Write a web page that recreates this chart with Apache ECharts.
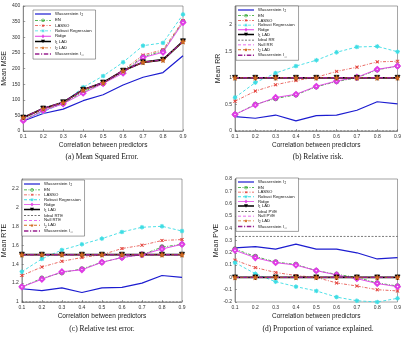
<!DOCTYPE html>
<html>
<head>
<meta charset="utf-8">
<script src="https://cdn.jsdelivr.net/npm/echarts@6/dist/echarts.min.js"></script>
<style>
  html, body { margin: 0; padding: 0; background: #fff; }
  #main { width: 404px; height: 339px; }
</style>
</head>
<body>
<div id="main"></div>
<script>
// x categories (correlation between predictors)
const xCats = ['0.1', '0.2', '0.3', '0.4', '0.5', '0.6', '0.7', '0.8', '0.9']

// (a) Mean MSE
const mseW2 = [32, 56, 70, 97, 116, 147, 172, 187, 241]
const mseEN = [35, 66, 88, 125, 153, 190, 238, 256, 350]
const mseLasso = [42, 70, 90, 133, 155, 195, 243, 260, 353]
const mseRobust = [34, 61, 90, 140, 176, 220, 273, 282, 373]
const mseRidge = [33, 65, 87, 121, 152, 185, 235, 252, 347]
const mseL1 = [43, 72, 92, 132, 155, 193, 220, 228, 287]
const mseL2 = [43, 71, 91, 131, 154, 192, 220, 227, 286]
const mseWinf = [43, 72, 92, 132, 155, 193, 220, 228, 287]

// (b) Mean RR
const rrW2 = [0.27, 0.24, 0.30, 0.19, 0.29, 0.30, 0.39, 0.55, 0.51]
const rrEN = [0.31, 0.50, 0.61, 0.68, 0.83, 0.93, 1.0, 1.15, 1.22]
const rrLasso = [0.56, 0.75, 0.87, 0.95, 1.01, 1.12, 1.2, 1.3, 1.31]
const rrRobust = [0.63, 0.91, 1.09, 1.22, 1.33, 1.48, 1.58, 1.59, 1.49]
const rrRidge = [0.31, 0.49, 0.63, 0.69, 0.84, 0.94, 1.01, 1.16, 1.22]
const rrL1 = [1, 1, 1, 1, 1, 1, 1, 1, 1]
const rrIdeal = [0, 0, 0, 0, 0, 0, 0, 0, 0]
const rrNull = [1, 1, 1, 1, 1, 1, 1, 1, 1]
const rrL2 = [1, 1, 1, 1, 1, 1, 1, 1, 1]
const rrWinf = [1, 1, 1, 1, 1, 1, 1, 1, 1]

// (c) Mean RTE
const rteW2 = [1.14, 1.12, 1.15, 1.10, 1.15, 1.155, 1.20, 1.28, 1.26]
const rteEN = [1.16, 1.25, 1.31, 1.35, 1.42, 1.47, 1.50, 1.58, 1.61]
const rteLasso = [1.28, 1.37, 1.43, 1.47, 1.50, 1.565, 1.60, 1.65, 1.66]
const rteRobust = [1.32, 1.455, 1.55, 1.61, 1.67, 1.74, 1.79, 1.80, 1.75]
const rteRidge = [1.16, 1.24, 1.32, 1.34, 1.42, 1.47, 1.50, 1.56, 1.61]
const rteL1 = [1.5, 1.5, 1.5, 1.5, 1.5, 1.5, 1.5, 1.5, 1.5]
const rteIdeal = [1, 1, 1, 1, 1, 1, 1, 1, 1]
const rteNull = [1.5, 1.5, 1.5, 1.5, 1.5, 1.5, 1.5, 1.5, 1.5]
const rteL2 = [1.5, 1.5, 1.5, 1.5, 1.5, 1.5, 1.5, 1.5, 1.5]
const rteWinf = [1.5, 1.5, 1.5, 1.5, 1.5, 1.5, 1.5, 1.5, 1.5]

// (d) Mean PVE
const pveW2 = [0.24, 0.25, 0.23, 0.27, 0.23, 0.23, 0.20, 0.15, 0.16]
const pveEN = [0.23, 0.17, 0.125, 0.105, 0.055, 0.025, 0.0, -0.045, -0.07]
const pveLasso = [0.14, 0.08, 0.04, 0.015, 0.0, -0.045, -0.07, -0.10, -0.11]
const pveRobust = [0.12, 0.03, -0.035, -0.075, -0.11, -0.16, -0.19, -0.20, -0.17]
const pveRidge = [0.22, 0.16, 0.12, 0.10, 0.055, 0.02, -0.01, -0.05, -0.075]
const pveL1 = [0, 0, 0, 0, 0, 0, 0, 0, 0]
const pveIdeal = [0.333, 0.333, 0.333, 0.333, 0.333, 0.333, 0.333, 0.333, 0.333]
const pveNull = [0, 0, 0, 0, 0, 0, 0, 0, 0]
const pveL2 = [0, 0, 0, 0, 0, 0, 0, 0, 0]
const pveWinf = [0, 0, 0, 0, 0, 0, 0, 0, 0]

// marker symbols
const STAR = 'path://M0,-10 L2.35,-3.24 9.51,-3.09 3.8,1.24 5.88,8.09 0,4 -5.88,8.09 -3.8,1.24 -9.51,-3.09 -2.35,-3.24 Z'
const ASTER = 'path://M-1,-0.12 L1,-0.12 L1,0.12 L-1,0.12 Z M-0.12,-1 L0.12,-1 L0.12,1 L-0.12,1 Z M-0.79,-0.62 L-0.62,-0.79 L0.79,0.62 L0.62,0.79 Z M0.62,-0.79 L0.79,-0.62 L-0.62,0.79 L-0.79,0.62 Z'
const XMARK = 'path://M-0.85,-0.68 L-0.68,-0.85 L0.85,0.68 L0.68,0.85 Z M0.68,-0.85 L0.85,-0.68 L-0.68,0.85 L-0.85,0.68 Z'

// line styles per method
const sty = {
  'Wasserstein l2': { color: '#1c1cd0', width: 1.2, type: 'solid', symbol: 'none', mk: null },
  'EN': { color: '#22a022', width: 0.8, type: [3, 1.5, 1, 1.5], symbol: 'emptyCircle', size: 3.5, mcolor: '#7a7a7a', mk: 'ring' },
  'LASSO': { color: '#e4443c', width: 0.8, type: [3, 1.5, 1, 1.5], symbol: XMARK, size: 3, mk: 'x' },
  'Robust Regression': { color: '#3cdde4', width: 0.9, type: [3, 2], symbol: ASTER, size: 4, mk: 'aster' },
  'Ridge': { color: '#e03ce6', width: 0.9, type: 'solid', symbol: 'emptyDiamond', size: 4.5, mk: 'diamond' },
  'l1 LAD': { color: '#000', width: 1.8, type: 'solid', symbol: 'triangle', size: 5, rotate: 180, mk: 'tri' },
  'l2 LAD': { color: '#d2691e', width: 0.9, type: [3, 2], symbol: STAR, size: 5, mk: 'star' },
  'Wasserstein linf': { color: '#98208f', width: 1.4, type: [4, 1.5, 1, 1.5], symbol: 'none', mk: null },
  'ideal': { color: '#444', width: 0.7, type: [2, 1.5], symbol: 'none', mk: null },
  'null': { color: '#e03ce6', width: 0.8, type: [3, 2], symbol: 'none', mk: null }
}

function keyOf(name) {
  if (name.indexOf('Ideal') === 0) return 'ideal'
  if (name.indexOf('Null') === 0) return 'null'
  return name
}

function mk(name, data, gi) {
  const s = sty[keyOf(name)]
  return {
    name: name,
    type: 'line',
    xAxisIndex: gi,
    yAxisIndex: gi,
    data: data,
    symbol: s.symbol,
    symbolSize: s.size || 4,
    symbolRotate: s.rotate || 0,
    showAllSymbol: true,
    animation: false,
    lineStyle: { color: s.color, width: s.width, type: s.type },
    itemStyle: { color: s.mcolor || s.color, borderColor: s.mcolor || s.color, borderWidth: 0.7 },
    emphasis: { disabled: true }
  }
}

// ---- legend icons: line (with dashes) + marker, as one filled path in a 16x4 box
function f(v) { return Math.round(v * 100) / 100 }
function poly(pts) { return 'M' + pts.map(p => f(p[0]) + ',' + f(p[1])).join(' L') + ' Z ' }
function rect(x0, x1, y0, y1) { return poly([[x0, y0], [x1, y0], [x1, y1], [x0, y1]]) }
function bar(len, th, ang) {
  const a = ang * Math.PI / 180, c = Math.cos(a), s = Math.sin(a)
  const pts = [[-len / 2, -th / 2], [len / 2, -th / 2], [len / 2, th / 2], [-len / 2, th / 2]]
  return poly(pts.map(p => [8 + p[0] * c - p[1] * s, 2 + p[0] * s + p[1] * c]))
}
function circ(r, n, rev) {
  const pts = []
  for (let i = 0; i < n; i++) {
    const a = (rev ? -1 : 1) * i * 2 * Math.PI / n
    pts.push([8 + r * Math.cos(a), 2 + r * Math.sin(a)])
  }
  return poly(pts)
}
function iconFor(name) {
  const s = sty[keyOf(name)]
  const t = Math.min(s.width, 1.6)
  let p = ''
  if (s.type === 'solid') {
    p += rect(0, 16, 2 - t / 2, 2 + t / 2)
  } else {
    let x = 0, i = 0
    while (x < 16) {
      const len = s.type[i % s.type.length]
      if (i % 2 === 0) p += rect(x, Math.min(16, x + len), 2 - t / 2, 2 + t / 2)
      x += len
      i++
    }
  }
  if (s.mk === 'ring') p += circ(1.7, 14, false) + circ(1.15, 14, true)
  if (s.mk === 'x') p += bar(3.2, 0.5, 45) + bar(3.2, 0.5, -45)
  if (s.mk === 'aster') p += bar(3.6, 0.45, 0) + bar(3.6, 0.45, 90) + bar(3.6, 0.45, 45) + bar(3.6, 0.45, -45)
  if (s.mk === 'diamond') p += poly([[8, 0], [9.6, 2], [8, 4], [6.4, 2]]) + poly([[8, 1.1], [7.1, 2], [8, 2.9], [8.9, 2]])
  if (s.mk === 'tri') p += poly([[6, 0.3], [10, 0.3], [8, 3.8]])
  if (s.mk === 'star') {
    const pts = []
    for (let i = 0; i < 10; i++) {
      const r = i % 2 === 0 ? 2 : 0.85
      const a = -Math.PI / 2 + i * Math.PI / 5
      pts.push([8 + r * Math.cos(a), 2.1 + r * Math.sin(a)])
    }
    p += poly(pts)
  }
  return 'path://' + p
}

const grids = [
  { left: 21, top: 6, width: 162, height: 125 },
  { left: 235, top: 6, width: 165, height: 125 },
  { left: 21, top: 179, width: 161, height: 123 },
  { left: 235, top: 179, width: 165, height: 123 }
]

const series = [
  mk('Wasserstein l2', mseW2, 0),
  mk('EN', mseEN, 0),
  mk('LASSO', mseLasso, 0),
  mk('Robust Regression', mseRobust, 0),
  mk('Ridge', mseRidge, 0),
  mk('l1 LAD', mseL1, 0),
  mk('l2 LAD', mseL2, 0),
  mk('Wasserstein linf', mseWinf, 0),

  mk('Ideal RR', rrIdeal, 1),
  mk('Null RR', rrNull, 1),
  mk('Wasserstein l2', rrW2, 1),
  mk('EN', rrEN, 1),
  mk('LASSO', rrLasso, 1),
  mk('Robust Regression', rrRobust, 1),
  mk('Ridge', rrRidge, 1),
  mk('l1 LAD', rrL1, 1),
  mk('l2 LAD', rrL2, 1),
  mk('Wasserstein linf', rrWinf, 1),

  mk('Ideal RTE', rteIdeal, 2),
  mk('Null RTE', rteNull, 2),
  mk('Wasserstein l2', rteW2, 2),
  mk('EN', rteEN, 2),
  mk('LASSO', rteLasso, 2),
  mk('Robust Regression', rteRobust, 2),
  mk('Ridge', rteRidge, 2),
  mk('l1 LAD', rteL1, 2),
  mk('l2 LAD', rteL2, 2),
  mk('Wasserstein linf', rteWinf, 2),

  mk('Ideal PVE', pveIdeal, 3),
  mk('Null PVE', pveNull, 3),
  mk('Wasserstein l2', pveW2, 3),
  mk('EN', pveEN, 3),
  mk('LASSO', pveLasso, 3),
  mk('Robust Regression', pveRobust, 3),
  mk('Ridge', pveRidge, 3),
  mk('l1 LAD', pveL1, 3),
  mk('l2 LAD', pveL2, 3),
  mk('Wasserstein linf', pveWinf, 3)
]

const axisColor = '#666'
const labelFont = { fontSize: 5, color: '#333', fontFamily: 'Liberation Sans' }

function xAx(gi) {
  return {
    type: 'category',
    gridIndex: gi,
    data: xCats,
    boundaryGap: false,
    name: 'Correlation between predictors',
    nameLocation: 'middle',
    nameGap: 11,
    nameTextStyle: { fontSize: 6.5, color: '#222', fontFamily: 'Liberation Sans' },
    axisLine: { lineStyle: { color: axisColor, width: 0.6 } },
    axisTick: { inside: true, length: 2, lineStyle: { color: axisColor, width: 0.6 } },
    axisLabel: Object.assign({ margin: 3 }, labelFont),
    splitLine: { show: false }
  }
}

function yAx(gi, name, min, max, interval, hideMax) {
  return {
    type: 'value',
    gridIndex: gi,
    min: min,
    max: max,
    interval: interval,
    name: name,
    nameLocation: 'middle',
    nameGap: gi % 2 === 0 ? 11 : 10,
    nameTextStyle: { fontSize: 7, color: '#222', fontFamily: 'Liberation Sans' },
    axisLine: { show: true, lineStyle: { color: axisColor, width: 0.6 } },
    axisTick: { show: true, inside: true, length: 2, lineStyle: { color: axisColor, width: 0.6 } },
    axisLabel: Object.assign({ margin: 3, showMaxLabel: !hideMax }, labelFont),
    splitLine: { show: false }
  }
}

const richSub = {
  n: { fontSize: 4.3, color: '#111', fontFamily: 'Liberation Sans' },
  s: { fontSize: 3, color: '#111', fontFamily: 'Liberation Sans', padding: [3, 0, 0, 0] }
}

function fmt(name) {
  if (name === 'Wasserstein l2') return '{n|Wasserstein l}{s| 2}'
  if (name === 'Wasserstein linf') return '{n|Wasserstein l}{s| ∞}'
  if (name === 'l1 LAD') return '{n|l}{s|1}{n| LAD}'
  if (name === 'l2 LAD') return '{n|l}{s|2}{n| LAD}'
  return '{n|' + name + '}'
}

function leg(names, left, top, gap) {
  return {
    data: names.map(n => ({
      name: n,
      icon: iconFor(n),
      itemStyle: { color: sty[keyOf(n)].color, borderWidth: 0 }
    })),
    orient: 'vertical',
    left: left,
    top: top,
    itemWidth: 16,
    itemHeight: 4,
    itemGap: gap,
    symbolKeepAspect: true,
    padding: [2, 4, 2, 2],
    backgroundColor: '#fff',
    borderColor: '#444',
    borderWidth: 0.5,
    borderRadius: 0,
    selectedMode: false,
    formatter: fmt,
    textStyle: { fontSize: 4.3, rich: richSub, padding: [0, 0, 0, -1] }
  }
}

const namesA = ['Wasserstein l2', 'EN', 'LASSO', 'Robust Regression', 'Ridge', 'l1 LAD', 'l2 LAD', 'Wasserstein linf']
const namesB = ['Wasserstein l2', 'EN', 'LASSO', 'Robust Regression', 'Ridge', 'l1 LAD', 'Ideal RR', 'Null RR', 'l2 LAD', 'Wasserstein linf']
const namesC = ['Wasserstein l2', 'EN', 'LASSO', 'Robust Regression', 'Ridge', 'l1 LAD', 'Ideal RTE', 'Null RTE', 'l2 LAD', 'Wasserstein linf']
const namesD = ['Wasserstein l2', 'EN', 'LASSO', 'Robust Regression', 'Ridge', 'l1 LAD', 'Ideal PVE', 'Null PVE', 'l2 LAD', 'Wasserstein linf']

const capFont = { fontSize: 7.5, fontFamily: 'Liberation Serif', fill: '#111' }
function cap(text, x, y) {
  return { type: 'text', x: x, y: y, style: Object.assign({ text: text, textAlign: 'center', textVerticalAlign: 'middle' }, capFont) }
}

const myChart = echarts.init(document.getElementById('main'))
const option = {
  animation: false,
  backgroundColor: '#fff',
  grid: grids.map(g => Object.assign({ show: true, borderColor: axisColor, borderWidth: 0.6, backgroundColor: '#fff' }, g)),
  xAxis: [xAx(0), xAx(1), xAx(2), xAx(3)],
  yAxis: [
    yAx(0, 'Mean MSE', 0, 400, 50, false),
    yAx(1, 'Mean RR', 0, 2.35, 0.5, true),
    yAx(2, 'Mean RTE', 1, 2.3, 0.2, true),
    yAx(3, 'Mean PVE', -0.2, 0.8, 0.1, false)
  ],
  legend: [
    leg(namesA, 33, 10, 1.3),
    leg(namesB, 236, 6, 0.7),
    leg(namesC, 22, 180, 0.9),
    leg(namesD, 236, 178, 0.6)
  ],
  graphic: [
    cap('(a) Mean Squared Error.', 102, 157),
    cap('(b) Relative risk.', 318, 157),
    cap('(c) Relative test error.', 102, 329),
    cap('(d) Proportion of variance explained.', 318, 329)
  ],
  series: series
}
myChart.setOption(option)
</script>
</body>
</html>
